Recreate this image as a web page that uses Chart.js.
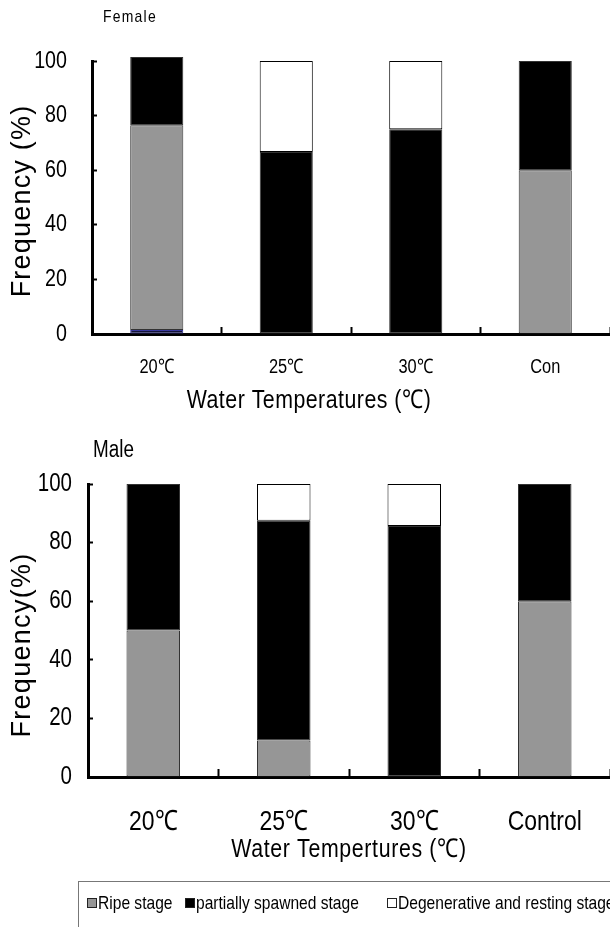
<!DOCTYPE html>
<html>
<head>
<meta charset="utf-8">
<script src="https://cdn.jsdelivr.net/npm/chart.js@4/dist/chart.umd.min.js"></script>
<style>
html,body{margin:0;padding:0;background:#fff;}
#wrap{position:relative;width:610px;height:927px;overflow:hidden;background:#fff;}
#c1{position:absolute;left:0;top:0;}
#c2{position:absolute;left:0;top:420px;}
#legend{position:absolute;left:78px;top:881px;width:560px;height:70px;border:1px solid #777;box-sizing:border-box;
  font-family:'Liberation Sans',Arial,sans-serif;font-size:19px;color:#000;}
.li{position:absolute;top:10px;height:22px;white-space:nowrap;}
.sq{position:absolute;left:0;top:6px;width:8px;height:8px;border:1px solid #222;}
.tx{position:absolute;left:11px;top:0;line-height:22px;transform:scaleX(0.82);transform-origin:0 50%;}
</style>
</head>
<body>
<div id="wrap">
  <canvas id="c1" width="610" height="420"></canvas>
  <canvas id="c2" width="610" height="507"></canvas>
  <div id="legend"></div>
</div>
<script>
// ---------- data ----------
const categoriesFemale = ['20\u2103', '25\u2103', '30\u2103', 'Con'];
const categoriesMale = ['20\u2103', '25\u2103', '30\u2103', 'Control'];
const seriesLabels = ['Ripe stage', 'partially spawned stage', 'Degenerative and resting stage'];
const seriesColors = ['#969696', '#000000', '#ffffff'];

const femaleExtra   = [1.5, null, null, null];
const femaleRipe    = [75, null, null, 60];
const femalePartial = [25, 66.7, 75, 40];
const femaleDegen   = [null, 33.3, 25, null];

const maleRipe    = [50, 12.5, null, 60];
const malePartial = [50, 75, 85.7, 40];
const maleDegen   = [null, 12.5, 14.3, null];

const yMin = 0, yMax = 100, yStep = 20;

// ---------- helpers ----------
const SANS = "'Liberation Sans',Arial,sans-serif";
const SX = 0.82; // horizontal condensing to mimic a narrow face

// condense the library's own axis label drawing (scales are drawn before datasets)
const condensePlugin = {
  id: 'condense',
  beforeDraw(chart) {
    const ctx = chart.ctx;
    const proto = CanvasRenderingContext2D.prototype.fillText;
    ctx.fillText = function (t, x, y) {
      this.save();
      this.translate(x, y);
      this.scale(SX, 1);
      proto.call(this, t, 0, 0);
      this.restore();
    };
  },
  beforeDatasetsDraw(chart) {
    delete chart.ctx.fillText;
  },
  afterDraw(chart) {
    delete chart.ctx.fillText;
  }
};

function textPlugin(items) {
  return {
    id: 'texts',
    afterDraw(chart) {
      const ctx = chart.ctx;
      items.forEach(t => {
        ctx.save();
        ctx.font = t.font;
        ctx.fillStyle = '#000';
        if ('letterSpacing' in ctx) ctx.letterSpacing = t.ls || '0px';
        ctx.textAlign = t.align || 'center';
        ctx.textBaseline = 'middle';
        ctx.translate(t.x, t.y);
        if (t.rot) ctx.rotate(t.rot);
        ctx.scale(t.sx || 1, 1);
        ctx.fillText(t.text, 0, 0);
        ctx.restore();
      });
    }
  };
}

function ds(label, data, color, extra) {
  return Object.assign({
    label: label,
    data: data,
    backgroundColor: color,
    borderColor: '#333',
    borderWidth: 1,
    borderSkipped: false,
    barPercentage: 0.41,
    categoryPercentage: 1.0,
    clip: false
  }, extra || {});
}

function makeOptions(cfg) {
  return {
    responsive: false,
    animation: false,
    layout: { padding: { top: cfg.top, left: 0, right: 0, bottom: 0 } },
    plugins: { legend: { display: false }, tooltip: { enabled: false }, title: { display: false } },
    scales: {
      x: {
        stacked: true,
        offset: true,
        afterFit(s) { s.height = cfg.xh; },
        border: { display: true, color: '#000', width: 3 },
        grid: { display: true, drawOnChartArea: false, offset: true, tickLength: cfg.xtl, tickWidth: 2, tickColor: '#000' },
        ticks: { color: '#000', font: { family: SANS, size: cfg.xfs, lineHeight: cfg.xlh }, padding: cfg.xpad, maxRotation: 0, autoSkip: false }
      },
      y: {
        stacked: true,
        min: yMin, max: yMax,
        afterFit(s) { s.width = cfg.yw; },
        border: { display: true, color: '#000', width: 3 },
        grid: { display: true, drawOnChartArea: false, tickLength: -5, tickWidth: 2, tickColor: '#000' },
        ticks: { stepSize: yStep, color: '#000', font: { family: SANS, size: cfg.yfs }, padding: cfg.ypad }
      }
    }
  };
}

// ---------- Female ----------
new Chart(document.getElementById('c1'), {
  type: 'bar',
  data: {
    labels: categoriesFemale,
    datasets: [
      ds('extra', femaleExtra, '#14143a', { borderColor: '#3a3aa0' }),
      ds(seriesLabels[0], femaleRipe, seriesColors[0]),
      ds(seriesLabels[1], femalePartial, seriesColors[1]),
      ds(seriesLabels[2], femaleDegen, seriesColors[2], { borderColor: '#000' })
    ]
  },
  options: makeOptions({ top: 61, xh: 86, xtl: -7, xfs: 20, xlh: 3.2, xpad: 8, yw: 92, yfs: 24, ypad: 30 }),
  plugins: [condensePlugin, textPlugin([
    { text: 'Female', x: 103, y: 17, font: '17px ' + SANS, align: 'left', ls: '1.5px', sx: SX },
    { text: 'Frequency (%)', x: 23, y: 201, font: '27px ' + SANS, rot: -Math.PI / 2, ls: '1.2px' },
    { text: 'Water Temperatures (\u2103)', x: 309, y: 401, font: '26px ' + SANS, ls: '0.6px', sx: SX }
  ])]
});

// ---------- Male ----------
new Chart(document.getElementById('c2'), {
  type: 'bar',
  data: {
    labels: categoriesMale,
    datasets: [
      ds(seriesLabels[0], maleRipe, seriesColors[0]),
      ds(seriesLabels[1], malePartial, seriesColors[1]),
      ds(seriesLabels[2], maleDegen, seriesColors[2], { borderColor: '#000' })
    ]
  },
  options: makeOptions({ top: 64, xh: 150, xtl: -8, xfs: 28, xlh: 3.5, xpad: 4, yw: 88, yfs: 25, ypad: 21 }),
  plugins: [condensePlugin, textPlugin([
    { text: 'Male', x: 93, y: 31, font: '23px ' + SANS, align: 'left', sx: SX },
    { text: 'Frequency(%)', x: 23, y: 225, font: '27px ' + SANS, rot: -Math.PI / 2, ls: '1.3px' },
    { text: 'Water Tempertures (\u2103)', x: 349, y: 430, font: '26px ' + SANS, ls: '0.8px', sx: SX }
  ])]
});

// ---------- Legend ----------
const legendLefts = [8, 106, 308];
const legendEl = document.getElementById('legend');
seriesLabels.forEach((lab, i) => {
  const item = document.createElement('div');
  item.className = 'li';
  item.style.left = legendLefts[i] + 'px';
  const sq = document.createElement('span');
  sq.className = 'sq';
  sq.style.background = seriesColors[i];
  const tx = document.createElement('span');
  tx.className = 'tx';
  tx.textContent = lab;
  item.appendChild(sq);
  item.appendChild(tx);
  legendEl.appendChild(item);
});
</script>
</body>
</html>
